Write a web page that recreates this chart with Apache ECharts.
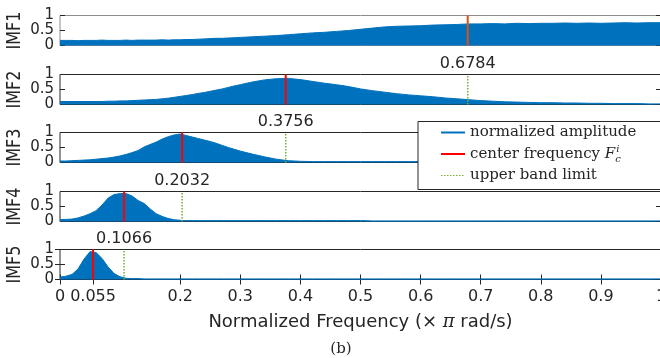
<!DOCTYPE html>
<html>
<head>
<meta charset="utf-8">
<script src="https://cdn.jsdelivr.net/npm/echarts@6/dist/echarts.min.js"></script>
<style>
  html, body { margin: 0; padding: 0; background: #fff; }
  #chart { width: 660px; height: 358px; }
</style>
</head>
<body>
<div id="chart"></div>
<script>
// frequency grid (x pi rad/s): 0.01 steps up to 0.3, then 0.02 steps
const freq = [
  0, 0.01, 0.02, 0.03, 0.04, 0.05, 0.06, 0.07, 0.08, 0.09,
  0.10, 0.11, 0.12, 0.13, 0.14, 0.15, 0.16, 0.17, 0.18, 0.19,
  0.20, 0.21, 0.22, 0.23, 0.24, 0.25, 0.26, 0.27, 0.28, 0.29, 0.30,
  0.32, 0.34, 0.36, 0.38, 0.40, 0.42, 0.44, 0.46, 0.48, 0.50,
  0.52, 0.54, 0.56, 0.58, 0.60, 0.62, 0.64, 0.66, 0.68, 0.70,
  0.72, 0.74, 0.76, 0.78, 0.80, 0.82, 0.84, 0.86, 0.88, 0.90,
  0.92, 0.94, 0.96, 0.98, 1.00
]

// normalized amplitude envelopes
const imf1 = [
  0.17, 0.17, 0.17, 0.16, 0.17, 0.17, 0.17, 0.18, 0.17, 0.17,
  0.17, 0.18, 0.17, 0.18, 0.18, 0.18, 0.18, 0.19, 0.18, 0.19,
  0.19, 0.20, 0.20, 0.21, 0.22, 0.23, 0.24, 0.24, 0.25, 0.26, 0.27,
  0.29, 0.31, 0.33, 0.36, 0.39, 0.42, 0.44, 0.47, 0.50, 0.54,
  0.58, 0.62, 0.64, 0.65, 0.66, 0.68, 0.69, 0.70, 0.72, 0.72,
  0.73, 0.72, 0.74, 0.73, 0.74, 0.74, 0.75, 0.74, 0.75, 0.74,
  0.75, 0.76, 0.75, 0.76, 0.76
]
const imf2 = [
  0.10, 0.10, 0.10, 0.10, 0.10, 0.10, 0.10, 0.10, 0.11, 0.11,
  0.12, 0.12, 0.13, 0.14, 0.15, 0.16, 0.17, 0.19, 0.21, 0.24,
  0.27, 0.30, 0.33, 0.37, 0.40, 0.44, 0.48, 0.52, 0.57, 0.62, 0.66,
  0.75, 0.82, 0.86, 0.87, 0.83, 0.77, 0.71, 0.66, 0.60, 0.52,
  0.46, 0.41, 0.36, 0.32, 0.29, 0.26, 0.22, 0.19, 0.16, 0.13,
  0.11, 0.09, 0.08, 0.07, 0.06, 0.06, 0.05, 0.05, 0.04, 0.04,
  0.03, 0.03, 0.03, 0.02, 0.02
]
const imf3 = [
  0.05, 0.05, 0.06, 0.07, 0.08, 0.09, 0.11, 0.13, 0.15, 0.18,
  0.22, 0.27, 0.33, 0.40, 0.52, 0.60, 0.68, 0.78, 0.86, 0.92,
  0.95, 0.90, 0.85, 0.80, 0.75, 0.70, 0.64, 0.57, 0.50, 0.44, 0.38,
  0.28, 0.19, 0.11, 0.06, 0.04, 0.03, 0.03, 0.03, 0.03, 0.03,
  0.03, 0.03, 0.03, 0.03, 0.03, 0.02, 0.02, 0.02, 0.02, 0.02,
  0.02, 0.02, 0.02, 0.02, 0.02, 0.02, 0.02, 0.02, 0.02, 0.02,
  0.02, 0.02, 0.02, 0.02, 0.02
]
const imf4 = [
  0.06, 0.07, 0.08, 0.12, 0.18, 0.26, 0.36, 0.55, 0.78, 0.90,
  0.93, 0.93, 0.85, 0.70, 0.60, 0.42, 0.26, 0.17, 0.10, 0.06,
  0.04, 0.03, 0.03, 0.03, 0.03, 0.03, 0.03, 0.03, 0.03, 0.03, 0.03,
  0.03, 0.03, 0.03, 0.03, 0.03, 0.03, 0.03, 0.03, 0.03, 0.03,
  0.02, 0.02, 0.02, 0.02, 0.02, 0.02, 0.02, 0.02, 0.02, 0.02,
  0.02, 0.02, 0.02, 0.02, 0.02, 0.02, 0.02, 0.02, 0.02, 0.02,
  0.02, 0.02, 0.02, 0.02, 0.02
]
const imf5 = [
  0.08, 0.11, 0.17, 0.35, 0.68, 0.93, 0.90, 0.70, 0.42, 0.20,
  0.09, 0.04, 0.03, 0.03, 0.02, 0.02, 0.02, 0.02, 0.02, 0.02,
  0.02, 0.02, 0.02, 0.02, 0.02, 0.02, 0.02, 0.02, 0.02, 0.02, 0.02,
  0.02, 0.02, 0.02, 0.02, 0.02, 0.02, 0.02, 0.02, 0.02, 0.02,
  0.02, 0.02, 0.02, 0.02, 0.02, 0.02, 0.02, 0.02, 0.02, 0.02,
  0.02, 0.02, 0.02, 0.02, 0.02, 0.02, 0.02, 0.02, 0.02, 0.02,
  0.02, 0.02, 0.02, 0.02, 0.02
]

const imfNames = ['IMF1', 'IMF2', 'IMF3', 'IMF4', 'IMF5']
const centerFreq = [0.6784, 0.3756, 0.2032, 0.1066, 0.055]
const upperLimit = [null, 0.6784, 0.3756, 0.2032, 0.1066]
const xTicks = [0, 0.055, 0.2, 0.3, 0.4, 0.5, 0.6, 0.7, 0.8, 0.9, 1]
const legendNames = ['normalized amplitude', 'center frequency', 'upper band limit']

const amps = [imf1, imf2, imf3, imf4, imf5]
const tops = [15.5, 74.5, 132.5, 191.5, 249.5]
const plotH = 30
const textColor = '#262626'
const blue = '#0072BD'
const green = '#77AC30'
const sans = 'DejaVu Sans'
const serif = 'DejaVu Serif'

const grid = tops.map((t, i) => ({
  left: 60,
  width: 601,
  top: t,
  height: plotH,
  outerBoundsMode: 'none',
  containLabel: false,
  show: true,
  backgroundColor: 'transparent',
  borderColor: i === 0 ? '#8c8c8c' : textColor,
  borderWidth: 1
}))

const xAxis = []
for (let i = 0; i < 4; i++) {
  xAxis.push({ gridIndex: i, type: 'value', min: 0, max: 1, show: false })
}
xAxis.push({
  gridIndex: 4,
  type: 'value',
  min: 0,
  max: 1,
  position: 'bottom',
  axisLine: { show: false },
  splitLine: { show: false },
  axisTick: { inside: true, length: 5, customValues: xTicks, lineStyle: { color: textColor } },
  axisLabel: {
    customValues: xTicks,
    formatter: v => String(v),
    fontFamily: sans,
    fontSize: 16,
    color: textColor,
    margin: 9
  },
  name: '{a|Normalized Frequency (× }{p|π}{a| rad/s)}',
  nameLocation: 'middle',
  nameGap: 34,
  nameTextStyle: {
    rich: {
      a: { fontFamily: sans, fontSize: 18, color: textColor },
      p: { fontFamily: serif, fontStyle: 'italic', fontSize: 18, color: textColor }
    }
  }
})
xAxis.push({
  gridIndex: 4,
  type: 'value',
  min: 0,
  max: 1,
  position: 'top',
  axisLine: { show: false },
  splitLine: { show: false },
  axisLabel: { show: false },
  axisTick: { inside: true, length: 5, customValues: xTicks, lineStyle: { color: textColor } }
})

const yAxis = []
for (let i = 0; i < 5; i++) {
  yAxis.push({
    gridIndex: i,
    type: 'value',
    min: 0,
    max: 1,
    interval: 0.5,
    axisLine: { show: false },
    splitLine: { show: false },
    axisTick: { inside: true, length: 5, lineStyle: { color: textColor } },
    axisLabel: { formatter: v => String(v), fontFamily: sans, fontSize: 15, color: textColor, margin: 6 }
  })
}
for (let i = 0; i < 5; i++) {
  yAxis.push({
    gridIndex: i,
    type: 'value',
    position: 'right',
    min: 0,
    max: 1,
    interval: 0.5,
    axisLine: { show: false },
    splitLine: { show: false },
    axisLabel: { show: false },
    axisTick: { inside: true, length: 5, lineStyle: { color: textColor } }
  })
}

// IMF1 last so the legend picks up the red center line
const series = []
;[1, 2, 3, 4, 0].forEach(i => {
  series.push({
    name: legendNames[0],
    type: 'line',
    xAxisIndex: i,
    yAxisIndex: i,
    data: freq.map((f, k) => [f, amps[i][k]]),
    symbol: 'none',
    silent: true,
    lineStyle: { color: blue, width: 1 },
    itemStyle: { color: blue },
    areaStyle: { color: blue, opacity: 1 },
    z: 2
  })
  const cColor = i === 0 ? '#D95319' : '#FF0000'
  series.push({
    name: legendNames[1],
    type: 'line',
    xAxisIndex: i,
    yAxisIndex: i,
    data: [[centerFreq[i], 0], [centerFreq[i], 1]],
    symbol: 'none',
    silent: true,
    lineStyle: { color: cColor, width: 2 },
    itemStyle: { color: cColor },
    z: 3
  })
  if (upperLimit[i] != null) {
    const u = upperLimit[i]
    series.push({
      name: legendNames[2],
      type: 'line',
      xAxisIndex: i,
      yAxisIndex: i,
      data: [
        [u, 0],
        {
          value: [u, 1],
          label: {
            show: true,
            position: 'top',
            distance: 3,
            formatter: String(u),
            fontFamily: sans,
            fontSize: 16,
            color: textColor
          }
        }
      ],
      symbol: 'circle',
      symbolSize: 0,
      showSymbol: true,
      silent: true,
      lineStyle: { color: green, width: 1.5, type: 'dotted' },
      itemStyle: { color: green },
      z: 3
    })
  }
})

const dotted = 'path://M0,0h1.5v1h-1.5z M3,0h1.5v1h-1.5z M6,0h1.5v1h-1.5z M9,0h1.5v1h-1.5z ' +
  'M12,0h1.5v1h-1.5z M15,0h1.5v1h-1.5z M18,0h1.5v1h-1.5z M21,0h1.5v1h-1.5z M24,0h0v1h0z'

const chart = echarts.init(document.getElementById('chart'))
chart.setOption({
  animation: false,
  backgroundColor: '#fff',
  grid,
  xAxis,
  yAxis,
  series,
  legend: {
    orient: 'vertical',
    left: 418,
    top: 121.5,
    data: [
      { name: legendNames[0], icon: 'rect', itemStyle: { color: blue } },
      { name: legendNames[1], icon: 'rect', itemStyle: { color: '#FF0000' } },
      { name: legendNames[2], icon: dotted, itemStyle: { color: green } }
    ],
    selectedMode: false,
    padding: [1, 40, 4, 23],
    itemGap: 1.5,
    itemWidth: 24,
    itemHeight: 2,
    backgroundColor: '#fff',
    borderColor: textColor,
    borderWidth: 1,
    borderRadius: 0,
    formatter: name => name === 'center frequency'
      ? 'center frequency {F|F}{c|c}{i|i}'
      : name,
    textStyle: {
      fontFamily: serif,
      fontSize: 15,
      color: textColor,
      lineHeight: 20,
      rich: {
        F: { fontFamily: serif, fontStyle: 'italic', fontSize: 15, lineHeight: 20, color: textColor },
        c: { fontFamily: serif, fontStyle: 'italic', fontSize: 10, lineHeight: 10, width: 1, verticalAlign: 'bottom', color: textColor },
        i: { fontFamily: serif, fontStyle: 'italic', fontSize: 10, lineHeight: 10, verticalAlign: 'top', color: textColor }
      }
    }
  },
  graphic: imfNames.map((n, i) => ({
    type: 'text',
    x: 14.5,
    y: tops[i] + plotH / 2,
    rotation: Math.PI / 2,
    scaleX: 0.8,
    style: {
      text: n,
      fontFamily: sans,
      fontSize: 20,
      fill: textColor,
      align: 'center',
      verticalAlign: 'middle'
    }
  })).concat([{
    type: 'text',
    x: 341,
    y: 349,
    style: {
      text: '(b)',
      fontFamily: serif,
      fontSize: 15,
      fill: textColor,
      align: 'center',
      verticalAlign: 'middle'
    }
  }])
})
</script>
</body>
</html>
